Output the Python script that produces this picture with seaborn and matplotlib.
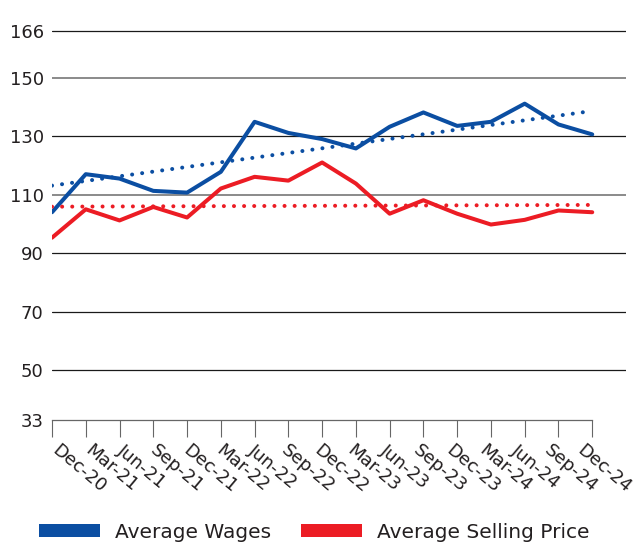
import numpy as np
import pandas as pd
import seaborn as sns
import matplotlib.pyplot as plt
from matplotlib.patches import Patch
from matplotlib.transforms import ScaledTranslation

# Quarterly index values
quarters = ["Dec-20", "Mar-21", "Jun-21", "Sep-21", "Dec-21", "Mar-22", "Jun-22",
            "Sep-22", "Dec-22", "Mar-23", "Jun-23", "Sep-23", "Dec-23", "Mar-24",
            "Jun-24", "Sep-24", "Dec-24"]
average_wages = [104.0, 117.0, 115.5, 111.3, 110.7, 117.8, 134.9, 131.1, 129.0,
                 125.8, 133.2, 138.1, 133.5, 134.9, 141.1, 134.0, 130.6]
average_selling_price = [95.3, 105.0, 101.2, 105.8, 102.2, 112.1, 116.1, 114.8, 121.0,
                         113.8, 103.5, 108.1, 103.5, 99.8, 101.4, 104.6, 104.0]

# Linear trend lines, start and end values
trend_quarters = ["Dec-20", "Dec-24"]
wages_trend = [113.1, 138.6]
price_trend = [105.9, 106.5]

y_ticks = [33, 50, 70, 90, 110, 130, 150, 166]

BLUE = "#0B4EA2"
RED = "#EC1C24"
INK = "#231F20"
TICK_FS = 13
LEGEND_FS = 14.5

sns.set_theme(style="white")
plt.rcParams["font.family"] = ["DejaVu Sans"]

pos = {q: i for i, q in enumerate(quarters)}
df = pd.DataFrame({
    "pos": [pos[q] for q in quarters],
    "Average Wages": average_wages,
    "Average Selling Price": average_selling_price,
})
long = df.melt(id_vars="pos", var_name="series", value_name="value")

trend = pd.DataFrame({
    "pos": [pos[q] for q in trend_quarters] * 2,
    "value": wages_trend + price_trend,
    "series": ["Average Wages"] * 2 + ["Average Selling Price"] * 2,
})
palette = {"Average Wages": BLUE, "Average Selling Price": RED}

fig = plt.figure(figsize=(6.4, 5.44), dpi=100)
ax = fig.add_axes([52 / 640, 1 - 420 / 544, (626 - 52) / 640, (420 - 27) / 544])

# horizontal rules: dark, with grey at 110 and 150
for v in y_ticks[1:]:
    grey = v in (110, 150)
    ax.axhline(v, color="#8A8A8A" if grey else "#1A1A1A",
               lw=1.4 if grey else 0.9, zorder=0.5)

sns.lineplot(data=long, x="pos", y="value", hue="series", palette=palette,
             linewidth=2.9, legend=False, ax=ax, zorder=3)

sns.lineplot(data=trend, x="pos", y="value", hue="series", palette=palette,
             linewidth=2.9, legend=False, ax=ax, zorder=4,
             linestyle=(0, (0.01, 2.5)), dash_capstyle="round")

ax.set_xlim(0, 17)
ax.set_ylim(33, 167.3)
ax.set_xlabel("")
ax.set_ylabel("")

ax.set_yticks(y_ticks)
ax.set_yticklabels([str(t) for t in y_ticks])
ax.tick_params(axis="y", length=0, pad=6, labelsize=TICK_FS, labelcolor=INK)

ax.set_xticks(df["pos"])
ax.set_xticklabels(quarters, rotation=-40, ha="left", va="top",
                   rotation_mode="anchor")
ax.tick_params(axis="x", bottom=True, length=12, width=0.8, color="#666666",
               direction="out", pad=3, labelsize=TICK_FS, labelcolor=INK)
# labels sit on a slightly tighter pitch than the ticks so the last one fits
labels = ax.get_xticklabels()
n = len(labels)
for i, lab in enumerate(labels):
    dx = (8 - 15 * i / (n - 1)) / 100
    lab.set_transform(lab.get_transform() + ScaledTranslation(dx, 0, fig.dpi_scale_trans))

for side in ("left", "top", "right"):
    ax.spines[side].set_visible(False)
ax.spines["bottom"].set_color("#666666")
ax.spines["bottom"].set_linewidth(0.9)
ax.spines["bottom"].set_bounds(0, len(quarters) - 1)

handles = [Patch(facecolor=BLUE, edgecolor="none", label="Average Wages"),
           Patch(facecolor=RED, edgecolor="none", label="Average Selling Price")]
leg = fig.legend(handles=handles, loc="center left",
                 bbox_to_anchor=(39 / 640, 12 / 544), ncol=2, frameon=False,
                 fontsize=LEGEND_FS, handlelength=44 / LEGEND_FS,
                 handleheight=9.4 / LEGEND_FS, handletextpad=0.75,
                 columnspacing=1.45, borderpad=0, borderaxespad=0)
for t in leg.get_texts():
    t.set_color(INK)

fig.savefig("out.png", dpi=100)
